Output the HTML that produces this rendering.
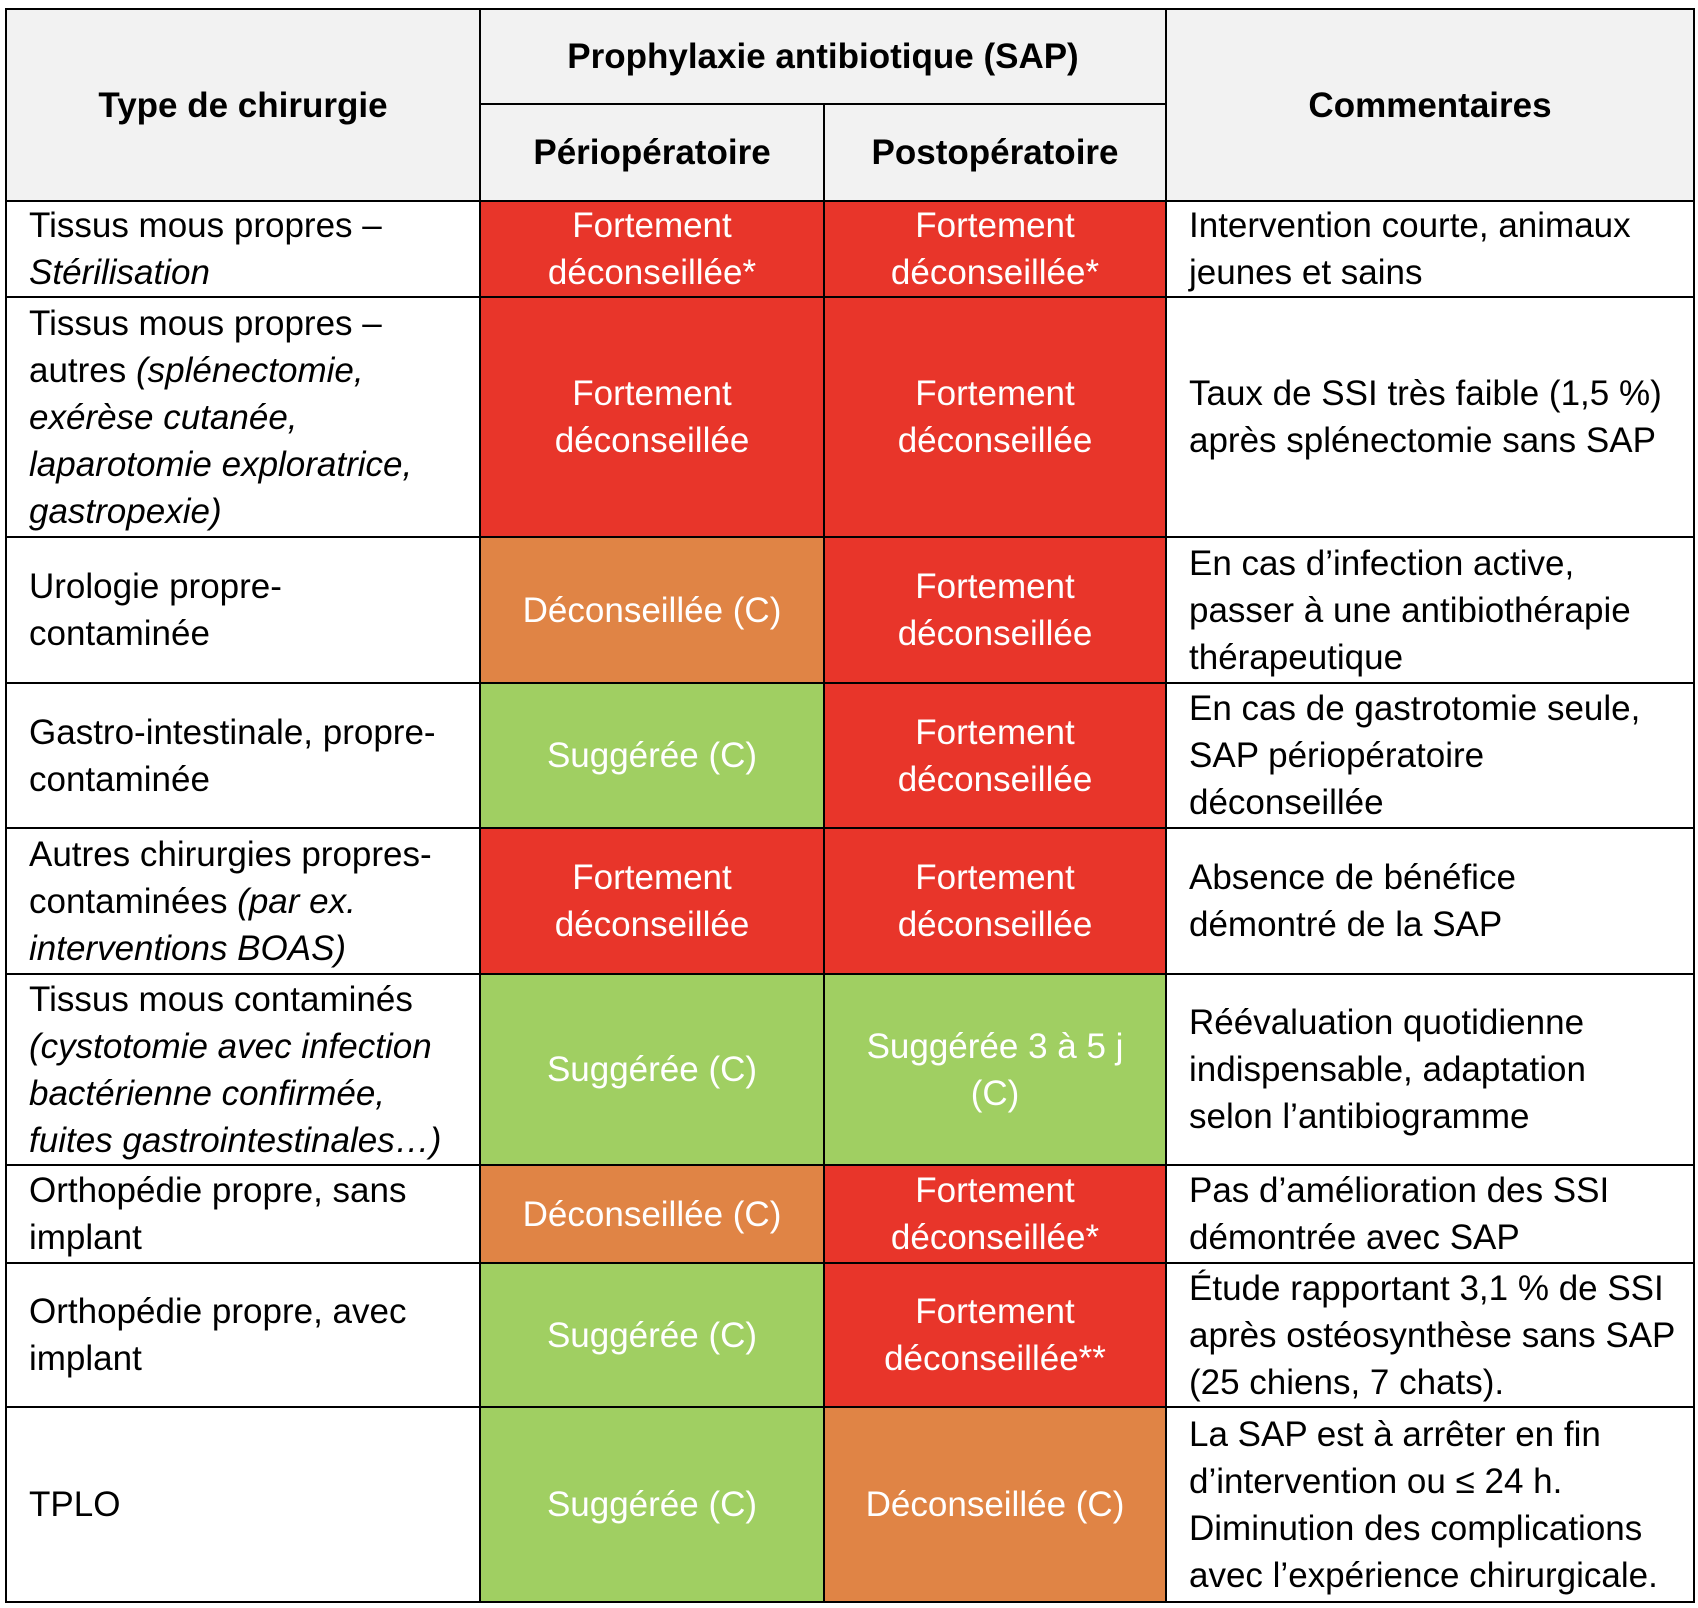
<!DOCTYPE html>
<html><head><meta charset="utf-8"><style>
html,body{margin:0;padding:0;background:#fff;width:1698px;height:1608px;overflow:hidden}
table{position:absolute;left:5px;top:8px;border-collapse:collapse;table-layout:fixed;font-family:"Liberation Sans",sans-serif;font-size:35px;line-height:47px;color:#000}
td,th{border:2px solid #000;padding:0 4px 0 22px;white-space:nowrap;overflow:hidden}
th{background:#f2f2f2;font-weight:bold;text-align:center;padding:0}
td.c{text-align:center;color:#fff;padding:0}
.r{background:#e8352a}.o{background:#e08445}.g{background:#a0cf62}
i{font-style:italic}
</style></head><body>
<table>
<colgroup><col style="width:474px"><col style="width:344px"><col style="width:342px"><col style="width:528px"></colgroup>
<tr style="height:95px"><th rowspan="2">Type de chirurgie</th><th colspan="2">Prophylaxie antibiotique (SAP)</th><th rowspan="2">Commentaires</th></tr>
<tr style="height:97px"><th>Périopératoire</th><th>Postopératoire</th></tr>
<tr style="height:96px"><td>Tissus mous propres –<br><i>Stérilisation</i></td><td class="c r">Fortement<br>déconseillée*</td><td class="c r">Fortement<br>déconseillée*</td><td>Intervention courte, animaux<br>jeunes et sains</td></tr>
<tr style="height:240px"><td>Tissus mous propres –<br>autres <i>(splénectomie,<br>exérèse cutanée,<br>laparotomie exploratrice,<br>gastropexie)</i></td><td class="c r">Fortement<br>déconseillée</td><td class="c r">Fortement<br>déconseillée</td><td>Taux de SSI très faible (1,5 %)<br>après splénectomie sans SAP</td></tr>
<tr style="height:146px"><td>Urologie propre-<br>contaminée</td><td class="c o">Déconseillée (C)</td><td class="c r">Fortement<br>déconseillée</td><td>En cas d’infection active,<br>passer à une antibiothérapie<br>thérapeutique</td></tr>
<tr style="height:145px"><td>Gastro-intestinale, propre-<br>contaminée</td><td class="c g">Suggérée (C)</td><td class="c r">Fortement<br>déconseillée</td><td>En cas de gastrotomie seule,<br>SAP périopératoire<br>déconseillée</td></tr>
<tr style="height:146px"><td>Autres chirurgies propres-<br>contaminées <i>(par ex.<br>interventions BOAS)</i></td><td class="c r">Fortement<br>déconseillée</td><td class="c r">Fortement<br>déconseillée</td><td>Absence de bénéfice<br>démontré de la SAP</td></tr>
<tr style="height:191px"><td>Tissus mous contaminés<br><i>(cystotomie avec infection<br>bactérienne confirmée,<br>fuites gastrointestinales…)</i></td><td class="c g">Suggérée (C)</td><td class="c g">Suggérée 3 à 5 j<br>(C)</td><td>Réévaluation quotidienne<br>indispensable, adaptation<br>selon l’antibiogramme</td></tr>
<tr style="height:98px"><td>Orthopédie propre, sans<br>implant</td><td class="c o">Déconseillée (C)</td><td class="c r">Fortement<br>déconseillée*</td><td>Pas d’amélioration des SSI<br>démontrée avec SAP</td></tr>
<tr style="height:144px"><td>Orthopédie propre, avec<br>implant</td><td class="c g">Suggérée (C)</td><td class="c r">Fortement<br>déconseillée**</td><td>Étude rapportant 3,1 % de SSI<br>après ostéosynthèse sans SAP<br>(25 chiens, 7 chats).</td></tr>
<tr style="height:195px"><td>TPLO</td><td class="c g">Suggérée (C)</td><td class="c o">Déconseillée (C)</td><td>La SAP est à arrêter en fin<br>d’intervention ou ≤ 24 h.<br>Diminution des complications<br>avec l’expérience chirurgicale.</td></tr>
</table>
</body></html>
